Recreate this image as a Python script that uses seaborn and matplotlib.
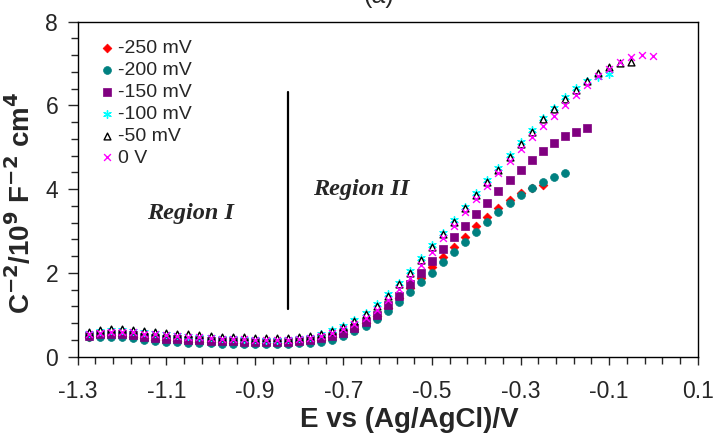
import numpy as np
import pandas as pd
import matplotlib
matplotlib.use("Agg")
import matplotlib.pyplot as plt
import seaborn as sns

# potential grid (V vs Ag/AgCl)
E = [-1.275, -1.25, -1.225, -1.2, -1.175, -1.15, -1.125, -1.1, -1.075, -1.05,
     -1.025, -1.0, -0.975, -0.95, -0.925, -0.9, -0.875, -0.85, -0.825, -0.8,
     -0.775, -0.75, -0.725, -0.7, -0.675, -0.65, -0.625, -0.6, -0.575, -0.55,
     -0.525, -0.5, -0.475, -0.45, -0.425, -0.4, -0.375, -0.35, -0.325, -0.3,
     -0.275, -0.25, -0.225, -0.2, -0.175, -0.15, -0.125, -0.1, -0.075, -0.05,
     -0.025, 0.0]

# C^-2 / 1e9 F^-2 cm^4 for each film formation potential
c_m250 = [0.48, 0.50, 0.51, 0.50, 0.48, 0.44, 0.41, 0.39, 0.37, 0.36,
          0.35, 0.34, 0.34, 0.33, 0.33, 0.33, 0.32, 0.32, 0.33, 0.34,
          0.37, 0.40, 0.46, 0.54, 0.66, 0.80, 0.97, 1.17, 1.40, 1.65,
          1.89, 2.13, 2.39, 2.63, 2.86, 3.12, 3.34, 3.56, 3.74, 3.91,
          4.02, 4.10]
c_m200 = [0.46, 0.46, 0.48, 0.46, 0.45, 0.41, 0.38, 0.36, 0.34, 0.33,
          0.32, 0.32, 0.31, 0.31, 0.31, 0.31, 0.30, 0.30, 0.31, 0.32,
          0.33, 0.36, 0.41, 0.49, 0.61, 0.74, 0.90, 1.09, 1.31, 1.54,
          1.78, 2.01, 2.25, 2.51, 2.75, 2.98, 3.22, 3.45, 3.66, 3.86,
          4.03, 4.18, 4.30, 4.38]
c_m150 = [0.50, 0.53, 0.55, 0.55, 0.52, 0.48, 0.45, 0.43, 0.42, 0.40,
          0.39, 0.38, 0.37, 0.37, 0.36, 0.36, 0.35, 0.35, 0.36, 0.37,
          0.41, 0.44, 0.49, 0.57, 0.69, 0.84, 1.00, 1.23, 1.46, 1.73,
          2.00, 2.29, 2.57, 2.85, 3.13, 3.41, 3.68, 3.95, 4.21, 4.45,
          4.69, 4.91, 5.10, 5.26, 5.37, 5.45]
c_m100 = [0.56, 0.61, 0.64, 0.64, 0.61, 0.58, 0.56, 0.54, 0.52, 0.50,
          0.48, 0.46, 0.45, 0.45, 0.43, 0.42, 0.41, 0.41, 0.42, 0.44,
          0.48, 0.53, 0.63, 0.74, 0.88, 1.05, 1.25, 1.49, 1.77, 2.05,
          2.35, 2.67, 2.96, 3.26, 3.58, 3.90, 4.22, 4.51, 4.81, 5.12,
          5.41, 5.71, 5.95, 6.19, 6.42, 6.58, 6.68, 6.74]
c_m50 = [0.59, 0.64, 0.67, 0.67, 0.64, 0.61, 0.59, 0.57, 0.55, 0.53,
         0.51, 0.49, 0.48, 0.48, 0.46, 0.45, 0.44, 0.44, 0.45, 0.46,
         0.49, 0.53, 0.62, 0.72, 0.85, 1.01, 1.21, 1.45, 1.73, 2.01,
         2.31, 2.63, 2.92, 3.22, 3.54, 3.86, 4.18, 4.47, 4.77, 5.08,
         5.37, 5.67, 5.92, 6.15, 6.38, 6.58, 6.77, 6.92, 7.01, 7.03]
c_0 = [0.53, 0.57, 0.60, 0.60, 0.58, 0.55, 0.53, 0.51, 0.49, 0.47,
       0.46, 0.44, 0.43, 0.43, 0.42, 0.41, 0.40, 0.40, 0.41, 0.42,
       0.45, 0.49, 0.57, 0.66, 0.78, 0.93, 1.12, 1.35, 1.61, 1.89,
       2.19, 2.51, 2.83, 3.13, 3.46, 3.76, 4.07, 4.38, 4.68, 4.97,
       5.24, 5.51, 5.75, 6.02, 6.26, 6.50, 6.70, 6.88, 7.04, 7.16,
       7.20, 7.18]

labels = ["-250 mV", "-200 mV", "-150 mV", "-100 mV", "-50 mV", "0 V"]
series = [c_m250, c_m200, c_m150, c_m100, c_m50, c_0]
xtick_vals = [-1.3, -1.1, -0.9, -0.7, -0.5, -0.3, -0.1, 0.1]
xtick_text = ["-1.3", "-1.1", "-0.9", "-0.7", "-0.5", "-0.3", "-0.1", "0.1"]

# marker, size, face, edge, edge width
styles = [
    ("D", 20, "#FF0000", "#FF0000", 0.5),
    ("o", 32, "#008080", "#008080", 0.5),
    ("s", 30, "#800080", "#800080", 0.5),
    ((6, 2, 0), 30, "#00FFFF", "#00FFFF", 1.0),
    ("^", 24, "white", "black", 1.0),
    ("x", 24, "#FF00FF", "#FF00FF", 1.0),
]

# separator between the two regions
sep_x = -0.826
sep_y = (1.14, 6.31)

sns.set_style("ticks")
plt.rcParams["font.family"] = ["Liberation Sans", "DejaVu Sans"]
plt.rcParams["mathtext.default"] = "regular"

fig = plt.figure(figsize=(7.16, 4.41), dpi=100)
ax = fig.add_axes([0.1085, 0.1912, 0.866, 0.7596])

for i, (lab, vals) in enumerate(zip(labels, series)):
    df = pd.DataFrame({"E": E[:len(vals)], "C": vals})
    m, s, fc, ec, lw = styles[i]
    sns.scatterplot(data=df, x="E", y="C", ax=ax, marker=m, s=s, color=fc,
                    edgecolor=ec, linewidth=lw, label=lab, zorder=3 + i)

ax.plot([sep_x, sep_x], list(sep_y), color="black", lw=1.6, zorder=2)

ax.text(-1.046, 3.42, "Region I", family="Liberation Serif", style="italic",
        weight="bold", fontsize=17.5, ha="center", va="center")
ax.text(-0.659, 4.0, "Region II", family="Liberation Serif", style="italic",
        weight="bold", fontsize=17.5, ha="center", va="center")

ax.set_xlim(-1.3, 0.1)
ax.set_ylim(0, 8)
ax.set_xticks(xtick_vals)
ax.set_xticklabels(xtick_text)
ax.set_xticks(np.arange(-1.3, 0.101, 0.04), minor=True)
ax.set_yticks([0, 2, 4, 6, 8])
ax.set_yticks(np.arange(0, 8.01, 0.4), minor=True)
ax.tick_params(axis="x", which="major", direction="out", length=6, width=1,
               labelsize=16.5, pad=11)
ax.tick_params(axis="y", which="major", direction="out", length=7, width=1,
               labelsize=16.5, pad=7)
ax.tick_params(which="minor", direction="out", length=5, width=1)
for sp in ax.spines.values():
    sp.set_linewidth(1)
    sp.set_color("black")

ax.set_xlabel("E vs (Ag/AgCl)/V", fontsize=20, weight="bold")
ax.xaxis.set_label_coords(0.535, -0.15)
ax.set_ylabel(r"C$^{\mathbf{-2}}$/10$^{\mathbf{9}}$ F$^{\mathbf{-2}}$ cm$^{\mathbf{4}}$",
              fontsize=20, weight="bold")
ax.yaxis.set_label_coords(-0.068, 0.46)

leg = ax.legend(loc="upper left", bbox_to_anchor=(0.034, 0.947), frameon=False,
                fontsize=14, handlelength=0.8, handletextpad=0.2,
                labelspacing=0.22, borderaxespad=0, borderpad=0)

fig.text(379 / 716, 0.994, "(a)", fontsize=18, ha="center", va="baseline")

fig.savefig("out.png", dpi=100)
